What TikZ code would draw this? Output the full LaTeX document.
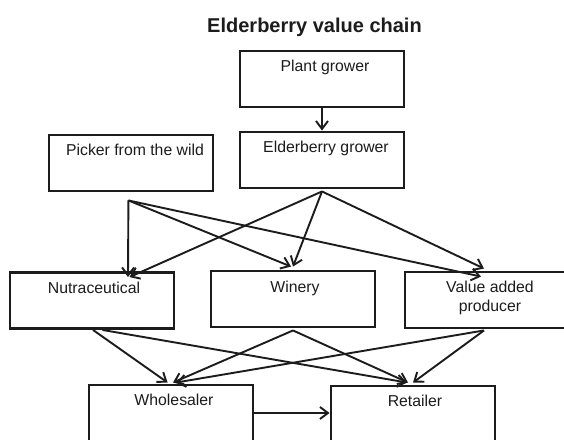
\documentclass[tikz,border=0pt]{standalone}
\usepackage{fontspec}
\setmainfont{Liberation Sans}
\usetikzlibrary{arrows.meta,calc}
\definecolor{ink}{RGB}{28,28,28}
\tikzset{
  box/.style={draw=ink, line width=2.9pt, minimum width=164pt, minimum height=56pt, inner sep=0pt},
  lbl/.style={anchor=base, inner sep=0pt, text=ink, font=\fontsize{15.8}{19}\selectfont, align=center},
  conn/.style={draw=ink, line width=1.9pt, -{Straight Barb[length=8pt,width=12pt,line width=1.9pt]}},
  ttl/.style={anchor=base, inner sep=0pt, text=ink, font=\fontsize{20}{24}\selectfont\bfseries}
}
\begin{document}
\begin{tikzpicture}[x=1pt,y=-1pt]
\useasboundingbox (0,0) rectangle (564,439);
\clip (0,0) rectangle (564,439);
\fill[white] (0,0) rectangle (564,439);
\node[ttl] (title) at (314.5,32.3) {Elderberry value chain};
% boxes
\node[box] (plant)  at (322,79) {};
\node[box] (elder)  at (322,160) {};
\node[box] (picker) at (131,163) {};
\node[box] (nutra)  at (92,300.5) {};
\node[box] (winery) at (293,299) {};
\node[box] (value)  at (487,300) {};
\node[box] (whole)  at (171,413) {};
\node[box] (retail) at (413,414) {};
% labels
\node[lbl] (plantT)  at ($(plant.north)+(3,22.3)$) {Plant grower};
\node[lbl] (elderT)  at ($(elder.north)+(4,22.3)$) {Elderberry grower};
\node[lbl] (pickerT) at ($(picker.north)+(4,22.3)$) {Picker from the wild};
\node[lbl] (nutraT)  at ($(nutra.north)+(2,22.5)$) {Nutraceutical};
\node[lbl] (wineryT) at ($(winery.north)+(2,22.5)$) {Winery};
\node[lbl] (valueT)  at ($(value.north)+(3,41.3)$) {Value added\\producer};
\node[lbl] (wholeT)  at ($(whole.north)+(3,22)$) {Wholesaler};
\node[lbl] (retailT) at ($(retail.north)+(2,21.5)$) {Retailer};
% connectors
\coordinate (pf) at ($(picker.south)+(-2.6,8)$);
\coordinate (ef) at ($(elder.south)+(0,2)$);
\draw[conn] (plant.south) -- (elder.north);
\draw[conn] (pf) -- ($(nutra.north)+(36,6)$);
\draw[conn] (pf) -- ($(winery.north)+(-2,-3)$);
\draw[conn] (pf) -- ($(value.north)+(-6,6)$);
\draw[conn] (ef) -- ($(nutra.north)+(37.5,6)$);
\draw[conn] (ef) -- ($(winery.north)+(0,-3)$);
\draw[conn] (ef) -- ($(value.north)+(-3,-2)$);
\draw[conn] ($(nutra.south)+(1,0)$) -- ($(whole.north)+(-3.4,-1)$);
\draw[conn] ($(nutra.south)+(10.5,0)$) -- ($(retail.north)+(-6,-2)$);
\draw[conn] ($(winery.south)+(0,2)$) -- ($(whole.north)+(2,-1)$);
\draw[conn] ($(winery.south)+(0,2)$) -- ($(retail.north)+(-5,-2)$);
\draw[conn] ($(value.south)+(-3,1)$) -- ($(whole.north)+(5,-1)$);
\draw[conn] ($(value.south)+(-3,1)$) -- ($(retail.north)+(0,-2)$);
\draw[conn] (whole.east) -- (whole.east -| retail.west);
\end{tikzpicture}
\end{document}
